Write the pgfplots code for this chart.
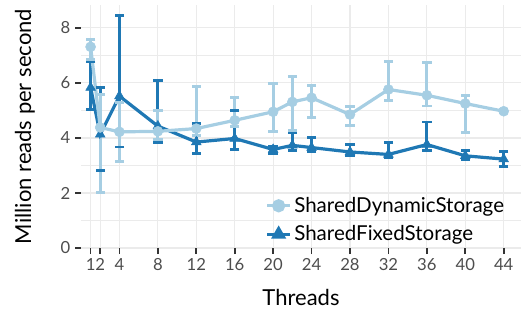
\documentclass[border=0pt]{standalone}
\usepackage{pgfplots}
\pgfplotsset{compat=1.18}
\usepackage{pgfplotstable}
\usepackage{fontspec}
\setmainfont{Lato}
\definecolor{lightc}{HTML}{A6CEE3}
\definecolor{darkc}{HTML}{1F78B4}
\definecolor{gridc}{HTML}{EBEBEB}
\definecolor{tickc}{HTML}{333333}
\definecolor{labc}{HTML}{4D4D4D}

\pgfplotstableread{
x y
1 7.31
2 4.38
4 4.22
8 4.24
12 4.34
16 4.64
20 4.95
22 5.31
24 5.46
28 4.85
32 5.76
36 5.55
40 5.25
44 4.97
}\dyn

\pgfplotstableread{
x y
1 5.83
2 4.13
4 5.52
8 4.43
12 3.85
16 3.98
20 3.58
22 3.73
24 3.65
28 3.49
32 3.40
36 3.76
40 3.35
44 3.23
}\fix

\begin{document}
\begin{tikzpicture}
\begin{axis}[
  at={(0,0)}, anchor=south west,
  scale only axis,
  width=330pt, height=182.25pt,
  xmin=0, xmax=45.8, ymin=0, ymax=8.83,
  axis x line*=bottom, axis y line*=left,
  axis line style={draw=none},
  xtick={1,2,4,8,12,16,20,24,28,32,36,40,44},
  ytick={0,2,4,6,8},
  minor ytick={1,3,5,7},
  xmajorgrids, ymajorgrids, yminorgrids,
  major grid style={draw=gridc, line width=0.9pt},
  minor grid style={draw=gridc, line width=0.75pt},
  tick align=outside,
  major tick length=4.5pt,
  minor tick length=0pt,
  every tick/.style={draw=tickc, line width=1.2pt},
  /pgf/number format/assume math mode=true,
  tick label style={font=\fontsize{12.5}{14}\selectfont, text=labc},
  xlabel={Threads},
  ylabel={Million reads per second},
  label style={font=\fontsize{16.5}{19}\selectfont},
  xlabel style={at={(axis description cs:0.5,0)}, anchor=center, yshift=-36.75pt},
  ylabel style={at={(axis description cs:0,0.5)}, anchor=center, yshift=42pt},
  legend style={draw=none, fill=none, font=\fontsize{15.4}{18}\selectfont,
    at={(axis description cs:0.41,0.232)}, anchor=north west,
    row sep=4.5pt, cells={anchor=west}},
  legend cell align=left,
  clip=false,
  unbounded coords=jump,
]
\addlegendimage{lightc, line width=2.4pt, mark=*, mark size=3.75pt, mark options={solid}}
\addlegendentry{SharedDynamicStorage}
\addlegendimage{darkc, line width=2.4pt, mark=triangle*, mark size=4.2pt, mark options={solid}}
\addlegendentry{SharedFixedStorage}

% error bars (low/high ends): dark then light
\addplot[darkc, line width=2.1pt, mark=-, mark size=3.5pt, mark options={solid, line width=2.2pt}, forget plot]
 coordinates {
 (1,5.03) (1,6.77) (1,nan)
 (2,2.83) (2,5.83) (2,nan)
 (4,3.67) (4,8.46) (4,nan)
 (8,3.82) (8,6.10) (8,nan)
 (12,3.43) (12,4.52) (12,nan)
 (16,3.59) (16,4.98) (16,nan)
 (20,3.45) (20,3.70) (20,nan)
 (22,3.55) (22,4.20) (22,nan)
 (24,3.49) (24,4.00) (24,nan)
 (28,3.35) (28,3.76) (28,nan)
 (32,3.27) (32,3.83) (32,nan)
 (36,3.53) (36,4.58) (36,nan)
 (40,3.21) (40,3.55) (40,nan)
 (44,2.95) (44,3.49)
 };
\addplot[lightc, line width=2.1pt, mark=-, mark size=3.5pt, mark options={solid, line width=2.2pt}, forget plot]
 coordinates {
 (1,6.86) (1,7.58) (1,nan)
 (2,2.02) (2,5.59) (2,nan)
 (4,3.16) (4,5.28) (4,nan)
 (8,3.95) (8,5.00) (8,nan)
 (12,4.10) (12,5.86) (12,nan)
 (16,4.40) (16,5.47) (16,nan)
 (20,4.22) (20,5.98) (20,nan)
 (22,4.28) (22,6.22) (22,nan)
 (24,4.74) (24,5.92) (24,nan)
 (28,4.46) (28,5.13) (28,nan)
 (32,5.35) (32,6.79) (32,nan)
 (36,5.16) (36,6.73) (36,nan)
 (40,4.20) (40,5.55) (40,nan)
 (44,4.92) (44,5.02)
 };
% lines
\addplot[darkc, line width=2.4pt, mark=none, forget plot] table[x=x, y=y]{\fix};
\addplot[lightc, line width=2.4pt, mark=none, forget plot] table[x=x, y=y]{\dyn};
% points
\addplot[darkc, only marks, mark=triangle*, mark size=4.2pt, forget plot] table[x=x, y=y]{\fix};
\addplot[lightc, only marks, mark=*, mark size=3.75pt, forget plot] table[x=x, y=y]{\dyn};
\end{axis}
\useasboundingbox (-60.75pt,-48pt) rectangle (334.5pt,186pt);
\end{tikzpicture}
\end{document}
